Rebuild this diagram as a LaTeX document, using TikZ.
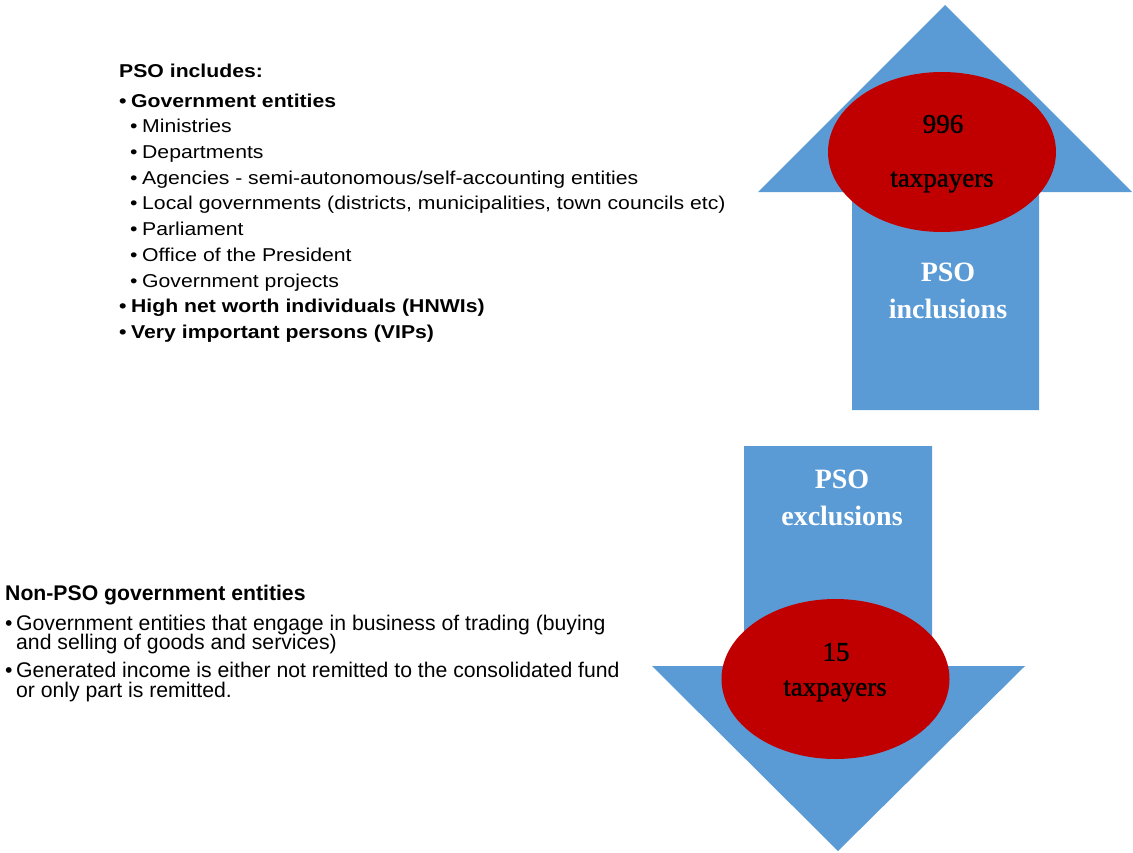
\documentclass[tikz,border=0pt]{standalone}
\usepackage{fontspec}
\setmainfont{Liberation Sans}
\newfontfamily\seriffont{Liberation Serif}
\newfontfamily\ovalfont[FakeBold=1.2]{Liberation Serif}
\newfontfamily\upperfont[FakeStretch=1.14]{Liberation Sans}
\usetikzlibrary{shapes.geometric}
\definecolor{arrowblue}{HTML}{5B9BD5}
\definecolor{ovalred}{HTML}{C00000}
\tikzset{
  line/.style={anchor=base west, inner sep=0pt, font=\fontsize{18.6}{22}\upperfont},
  boldline/.style={line, font=\fontsize{18.6}{22}\upperfont\bfseries},
  lowline/.style={anchor=base west, inner sep=0pt, font=\fontsize{21.2}{24}\selectfont},
  lowbold/.style={lowline, font=\fontsize{21.2}{24}\selectfont\bfseries},
  oval/.style={ellipse, fill=ovalred, draw=none, inner sep=0pt, minimum width=228pt, minimum height=160pt},
  ovaltext/.style={inner sep=0pt, text=black, font=\fontsize{27}{30}\ovalfont},
  arrowtext/.style={inner sep=0pt, text=white, align=center, font=\fontsize{28}{37}\selectfont\seriffont\bfseries},
}
\newcommand{\bul}{\makebox[12pt][l]{•}}
\begin{document}
\begin{tikzpicture}[x=1pt,y=-1pt]
\useasboundingbox (0,0) rectangle (1133,852);
% up arrow
\fill[arrowblue] (945,5) -- (1132,192) -- (1039,192) -- (1039,410) -- (852,410) -- (852,192) -- (758,192) -- cycle;
\node[oval] (upoval) at (942,152) {};
\node[ovaltext] (n996) at (943,124) {996};
\node[ovaltext] (tax1) at (942,182) {taxpayers};
\node[arrowtext] (incl) at (948,291) {PSO\\inclusions};
% down arrow
\fill[arrowblue] (744,446) -- (932,446) -- (932,666) -- (1025,666) -- (838,851) -- (652,666) -- (744,666) -- cycle;
\node[oval] (downoval) at (835.5,679) {};
\node[ovaltext] (n15) at (836,652) {15};
\node[ovaltext] (tax2) at (835,691) {taxpayers};
\node[arrowtext] (excl) at (842,498) {PSO\\exclusions};
% upper text
\node[boldline] (h1) at (119,77) {PSO includes:};
\node[boldline] (g1) at (119,107) {\bul Government entities};
\node[line] (s1) at (130,132) {\bul Ministries};
\node[line] (s2) at (130,158) {\bul Departments};
\node[line] (s3) at (130,184) {\bul Agencies - semi-autonomous/self-accounting entities};
\node[line] (s4) at (130,209) {\bul Local governments (districts, municipalities, town councils etc)};
\node[line] (s5) at (130,235) {\bul Parliament};
\node[line] (s6) at (130,261) {\bul Office of the President};
\node[line] (s7) at (130,287) {\bul Government projects};
\node[boldline] (g2) at (119,312) {\bul High net worth individuals (HNWIs)};
\node[boldline] (g3) at (119,338) {\bul Very important persons (VIPs)};
% lower text
\node[lowbold] (h2) at (5,600) {Non-PSO government entities};
\node[lowline] (l1) at (5,630) {\makebox[11pt][l]{•}Government entities that engage in business of trading (buying};
\node[lowline] (l1b) at (16,649) {and selling of goods and services)};
\node[lowline] (l2) at (5,677) {\makebox[11pt][l]{•}Generated income is either not remitted to the consolidated fund};
\node[lowline] (l2b) at (16,697) {or only part is remitted.};
\end{tikzpicture}
\end{document}
